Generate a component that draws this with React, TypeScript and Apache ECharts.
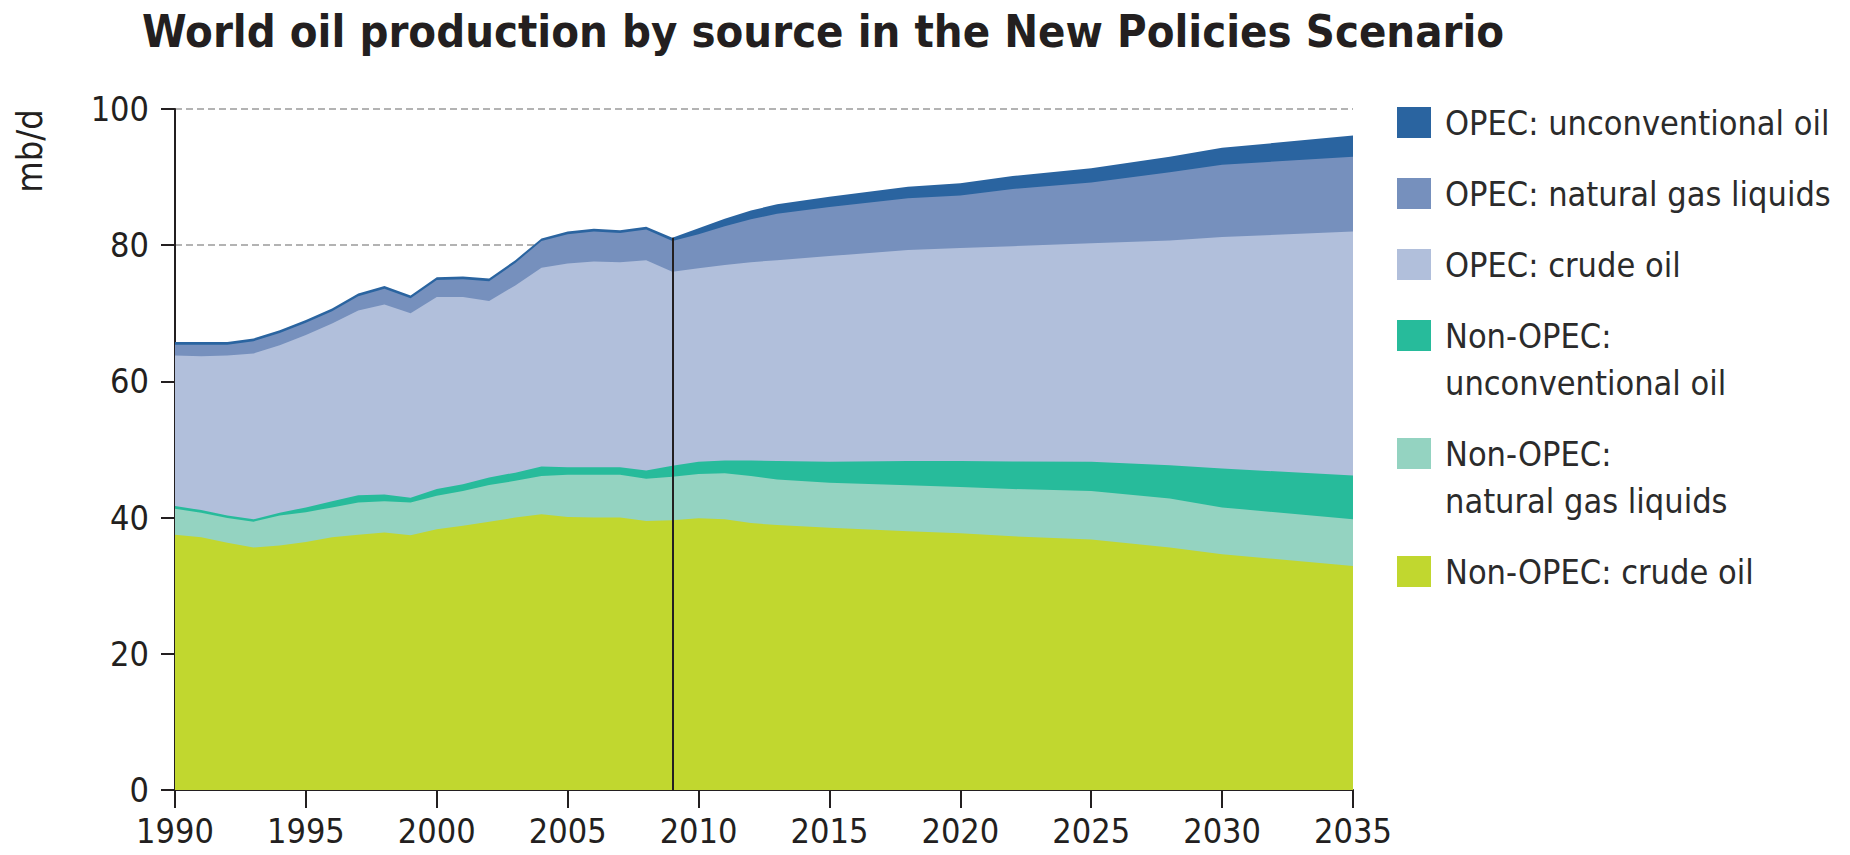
import React, { useEffect, useRef } from 'react';
import * as echarts from 'echarts';

// ---- Data (mb/d) ----
const years = [
  1990, 1991, 1992, 1993, 1994, 1995, 1996, 1997, 1998, 1999,
  2000, 2001, 2002, 2003, 2004, 2005, 2006, 2007, 2008, 2009,
  2010, 2011, 2012, 2013, 2015, 2018, 2020, 2022, 2025, 2028, 2030, 2035,
];
const nonOpecCrude = [
  37.5, 37.1, 36.3, 35.6, 35.9, 36.4, 37.1, 37.5, 37.8, 37.4,
  38.3, 38.8, 39.4, 40.0, 40.5, 40.1, 40.0, 40.0, 39.5, 39.6,
  39.9, 39.75, 39.2, 38.9, 38.5, 38.0, 37.7, 37.25, 36.8, 35.6, 34.6, 32.9,
];
const nonOpecNgl = [
  3.8, 3.6, 3.65, 3.8, 4.4, 4.4, 4.4, 4.7, 4.6, 4.8,
  4.9, 5.1, 5.4, 5.4, 5.6, 6.2, 6.3, 6.3, 6.2, 6.4,
  6.5, 6.75, 6.9, 6.7, 6.6, 6.75, 6.8, 6.95, 7.1, 7.2, 6.9, 6.85,
];
const nonOpecUnconv = [
  0.4, 0.4, 0.35, 0.35, 0.4, 0.7, 0.9, 1.1, 1.0, 0.7,
  1.0, 1.0, 1.1, 1.2, 1.4, 1.1, 1.1, 1.1, 1.2, 1.6,
  1.8, 1.9, 2.3, 2.7, 3.1, 3.55, 3.8, 4.05, 4.3, 4.9, 5.7, 6.45,
];
const opecCrude = [
  22.1, 22.6, 23.5, 24.35, 24.6, 25.3, 26.1, 27.1, 27.9, 27.1,
  28.2, 27.5, 25.9, 27.5, 29.2, 29.9, 30.2, 30.1, 30.9, 28.5,
  28.4, 28.7, 29.1, 29.5, 30.2, 31.0, 31.3, 31.6, 32.1, 33.0, 34.0, 35.8,
];
const opecNgl = [
  1.6, 1.7, 1.6, 1.8, 1.8, 1.8, 1.8, 2.1, 2.3, 2.2,
  2.5, 2.6, 2.9, 3.3, 3.9, 4.3, 4.4, 4.3, 4.5, 4.5,
  5.0, 5.7, 6.3, 6.8, 7.2, 7.6, 7.7, 8.4, 8.9, 10.0, 10.6, 11.0,
];
const opecUnconv = [
  0.4, 0.4, 0.4, 0.4, 0.4, 0.4, 0.4, 0.4, 0.4, 0.4,
  0.4, 0.4, 0.4, 0.4, 0.4, 0.4, 0.4, 0.4, 0.4, 0.5,
  0.9, 1.1, 1.3, 1.4, 1.5, 1.7, 1.8, 1.9, 2.1, 2.3, 2.5, 3.1,
];

// bottom -> top of the stack
const seriesNames = [
  'Non-OPEC: crude oil',
  'Non-OPEC: natural gas liquids',
  'Non-OPEC: unconventional oil',
  'OPEC: crude oil',
  'OPEC: natural gas liquids',
  'OPEC: unconventional oil',
];
const legendLabels = [
  'Non-OPEC: crude oil',
  'Non-OPEC:\nnatural gas liquids',
  'Non-OPEC:\nunconventional oil',
  'OPEC: crude oil',
  'OPEC: natural gas liquids',
  'OPEC: unconventional oil',
];
const seriesValues = [nonOpecCrude, nonOpecNgl, nonOpecUnconv, opecCrude, opecNgl, opecUnconv];
const colors = ['#c1d72f', '#94d3c1', '#27bb9b', '#b1bfdb', '#7690bd', '#2a64a0'];

const xMin = 1990;
const xMax = 2035;
const xStep = 5;
const yMin = 0;
const yMax = 100;
const yStep = 20;
const baseYear = 2009;

const titleText = 'World oil production by source in the New Policies Scenario';
const yUnit = 'mb/d';

const FONT = "'DejaVu Sans Condensed', 'DejaVu Sans', sans-serif";
const INK = '#231f20';

export default function App() {
  const ref = useRef<HTMLDivElement>(null);

  useEffect(() => {
    if (!ref.current) return;
    const chart = echarts.init(ref.current, undefined, { renderer: 'svg' });

    // cumulative tops of the stack
    const cumulative: number[][] = [];
    seriesValues.forEach((arr, k) => {
      cumulative.push(arr.map((v, i) => (k === 0 ? 0 : cumulative[k - 1][i]) + v));
    });
    const baseIdx = years.indexOf(baseYear);
    const baseTotal = cumulative[cumulative.length - 1][baseIdx];

    // draw the highest cumulative area first, lower ones on top of it
    const series: any[] = [];
    for (let k = seriesNames.length - 1; k >= 0; k--) {
      series.push({
        name: seriesNames[k],
        type: 'line',
        data: years.map((y, i) => [y, cumulative[k][i]]),
        showSymbol: false,
        symbol: 'none',
        lineStyle: { width: 0 },
        areaStyle: { color: colors[k], opacity: 1 },
        itemStyle: { color: colors[k] },
        silent: true,
      });
    }
    series[series.length - 1].markLine = {
      silent: true,
      symbol: ['none', 'none'],
      label: { show: false },
      lineStyle: { color: INK, width: 2, type: 'solid' },
      data: [[{ coord: [baseYear, 0] }, { coord: [baseYear, baseTotal] }]],
    };

    // legend: swatch aligned with the first line of its label
    const legendEls: any[] = [];
    let ly = 107;
    const lineH = 47;
    for (let k = seriesNames.length - 1; k >= 0; k--) {
      const lines = legendLabels[k].split('\n').length;
      legendEls.push({
        type: 'rect',
        shape: { x: 1397, y: ly, width: 34, height: 31 },
        style: { fill: colors[k] },
      });
      legendEls.push({
        type: 'text',
        x: 1445,
        y: ly + 15.5 - lineH / 2,
        style: {
          text: legendLabels[k],
          font: `34px ${FONT}`,
          fill: '#2b2b2b',
          lineHeight: lineH,
          verticalAlign: 'top',
          align: 'left',
        },
      });
      ly += lines * lineH + 24;
    }

    chart.setOption({
      animation: false,
      title: {
        text: titleText,
        left: 137,
        top: 4,
        textStyle: { fontFamily: FONT, fontWeight: 'bold', fontSize: 45, color: INK },
      },
      grid: { left: 175, right: 497, top: 109, bottom: 65, containLabel: false },
      xAxis: {
        type: 'value',
        min: xMin,
        max: xMax,
        interval: xStep,
        axisLine: { show: true, lineStyle: { color: INK, width: 2 } },
        axisTick: { show: true, length: 18, lineStyle: { color: INK, width: 2 } },
        axisLabel: {
          fontFamily: FONT,
          fontSize: 34,
          color: INK,
          margin: 24,
          formatter: (v: number) => String(v),
        },
        splitLine: { show: false },
      },
      yAxis: {
        type: 'value',
        min: yMin,
        max: yMax,
        interval: yStep,
        axisLine: { show: true, lineStyle: { color: INK, width: 2 } },
        axisTick: { show: true, length: 14, lineStyle: { color: INK, width: 2 } },
        axisLabel: { fontFamily: FONT, fontSize: 34, color: INK, margin: 26 },
        splitLine: { show: true, lineStyle: { color: '#b3b3b3', width: 2, type: [7, 4] } },
      },
      series,
      graphic: [
        {
          type: 'text',
          x: 29,
          y: 151,
          rotation: Math.PI / 2,
          style: {
            text: yUnit,
            font: `36px ${FONT}`,
            fill: INK,
            align: 'center',
            verticalAlign: 'middle',
          },
        },
        ...legendEls,
      ],
    });

    return () => chart.dispose();
  }, []);

  return (
    <div
      ref={ref}
      style={{ position: 'fixed', left: 0, top: 0, width: 1850, height: 855, background: '#fff' }}
    />
  );
}
